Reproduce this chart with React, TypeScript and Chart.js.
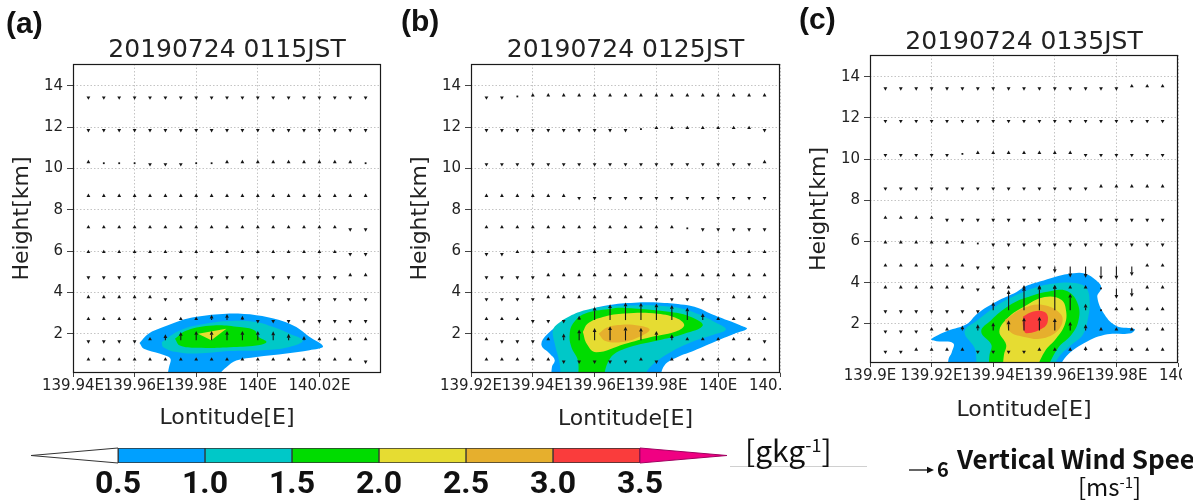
import React, { useEffect, useRef } from 'react';
import { Chart, registerables } from 'chart.js';

Chart.register(...registerables);

// ---------------------------------------------------------------------------
// Data
// ---------------------------------------------------------------------------

// Model levels (km) on which the vertical wind is sampled
const HEIGHTS = [0.7, 1.68, 2.66, 3.72, 4.78, 5.9, 7.1, 8.62, 10.25, 11.9, 13.48];
const Y_TICKS = [2, 4, 6, 8, 10, 12, 14];

const TITLE_A = '20190724 0115JST';
const TITLE_B = '20190724 0125JST';
const TITLE_C = '20190724 0135JST';

const X_TICKS_A = [139.94, 139.96, 139.98, 140.0, 140.02];
const X_TICKS_B = [139.92, 139.94, 139.96, 139.98, 140.0, 140.02];
const X_TICKS_C = [139.9, 139.92, 139.94, 139.96, 139.98, 140.0];

// Longitudes of the vector columns
const LON_A = [139.945, 139.95, 139.955, 139.96, 139.965, 139.97, 139.975, 139.98, 139.985, 139.99, 139.995, 140.0, 140.005, 140.01, 140.015, 140.02, 140.025, 140.03, 140.035];
const LON_B = [139.925, 139.93, 139.935, 139.94, 139.945, 139.95, 139.955, 139.96, 139.965, 139.97, 139.975, 139.98, 139.985, 139.99, 139.995, 140.0, 140.005, 140.01, 140.015];
const LON_C = [139.905, 139.91, 139.915, 139.92, 139.925, 139.93, 139.935, 139.94, 139.945, 139.95, 139.955, 139.96, 139.965, 139.97, 139.975, 139.98, 139.985, 139.99, 139.995];

// Vertical wind speed [m/s], one row per level in HEIGHTS (bottom to top)
const W_A = [
  [0.4, 0.4, 0.4, 0.4, 0.4, 0.4, 0.5, 0.6, 0.7, 0.8, 0.8, 0.8, 0.7, 0.6, 0.6, 0.5, 0.4, 0.4, -0.4],
  [-0.4, -0.4, -0.4, -0.4, 0.5, 1.7, 2.3, 2.6, 2.6, 2.6, 2.6, 2.6, 2.5, 1.8, 1.2, 0.5, 0.4, 0.4, 0.4],
  [0.4, 0.4, 0.4, 0.4, 0.4, 0.4, 0.4, 0.6, 1.5, 1.7, 1.2, -0.4, -0.4, -0.4, -0.4, -0.4, -0.4, -0.4, -0.4],
  [0.4, 0.4, 0.4, 0.4, 0.4, -0.4, -0.4, -0.4, -0.4, -0.4, -0.4, -0.4, -0.4, -0.4, -0.4, -0.4, -0.4, -0.4, -0.4],
  [-0.4, -0.4, -0.4, -0.4, -0.4, -0.4, -0.4, -0.4, -0.4, -0.4, -0.4, -0.4, -0.4, -0.4, -0.4, -0.4, -0.4, 0.4, 0.4],
  [0.4, 0.4, 0.4, 0.4, 0.4, 0.4, 0.4, 0.4, 0.4, 0.4, 0.4, 0.4, 0.4, 0.4, 0.4, 0.4, 0.4, -0.4, -0.4],
  [0.4, 0.4, 0.4, 0.4, 0.4, 0.4, 0.4, 0.4, 0.4, 0.4, 0.4, 0.4, 0.4, 0.4, 0.4, 0.4, 0.4, -0.4, -0.4],
  [0.4, 0.4, 0.4, 0.4, 0.4, 0.4, 0.4, 0.4, 0.4, 0.4, 0.4, 0.4, 0.4, 0.4, 0.4, 0.4, 0.4, 0.4, 0.4],
  [0.3, 0, 0, 0, -0.4, -0.4, -0.4, 0, 0, 0.4, 0.4, 0.4, 0.4, 0.4, 0.4, 0.4, 0.4, 0.4, 0],
  [-0.4, -0.4, -0.4, -0.4, -0.4, -0.4, -0.4, -0.4, -0.4, -0.4, -0.4, -0.4, -0.4, -0.4, -0.4, -0.4, -0.4, -0.4, -0.4],
  [-0.4, -0.4, -0.4, -0.4, -0.4, -0.4, -0.4, -0.4, -0.4, -0.4, -0.4, -0.4, -0.4, -0.4, -0.4, -0.4, -0.4, -0.4, -0.4],
];

const W_B = [
  [0.4, 0.4, 0.4, 0.4, 0.4, -0.5, -0.5, -0.5, -0.5, -0.5, 0.3, -0.4, 0.4, 0.4, 0.4, 0.4, 0.4, 0.4, 0.4],
  [0.4, -0.4, -0.4, -0.4, 0.6, 1.9, 3.0, 3.4, 3.9, 3.8, 3.5, 2.6, 1.7, 0.6, 0.4, 0.4, 0.4, 0.4, -0.4],
  [0.4, 0.4, 0.4, -0.4, -0.4, -0.4, 1.2, 3.7, 4.4, 4.9, 4.8, 4.6, 4.2, 3.5, 1.9, 0.5, 0.4, 0.5, 0.4],
  [-0.4, -0.4, -0.4, -0.4, 0.4, 0.4, 0.4, 0.4, 0.4, 0.4, 0.4, -0.4, -0.4, -0.4, -0.4, -0.4, 0.4, 0.4, 0.4],
  [-0.4, -0.4, -0.4, -0.4, 0.4, 0.4, 0.4, 0.4, 0.4, 0.4, 0.4, 0.4, 0.4, 0.4, 0.4, 0.4, 0.4, 0.4, 0.4],
  [-0.4, -0.4, 0.4, 0.4, 0.4, 0.4, 0.4, 0.4, 0.4, 0.4, 0.4, 0.4, 0.4, 0.4, 0.4, 0.4, 0.4, 0.4, 0.4],
  [0.4, 0.4, 0.4, 0.4, 0.4, 0.4, 0.4, 0.4, 0.4, 0.4, 0.4, 0.4, 0.4, 0, -0.4, -0.4, -0.4, -0.4, -0.4],
  [0.4, 0.4, 0.4, 0.4, 0.4, 0.4, -0.4, -0.4, -0.4, -0.4, -0.4, -0.4, -0.4, -0.4, -0.4, -0.4, -0.4, -0.4, -0.4],
  [-0.4, -0.4, -0.4, -0.4, -0.4, -0.4, -0.4, -0.4, -0.4, -0.4, -0.4, -0.4, -0.4, -0.4, -0.4, -0.4, -0.4, -0.4, 0.4],
  [-0.4, -0.4, -0.4, -0.4, -0.4, -0.4, -0.4, -0.4, -0.4, -0.4, 0, 0.4, 0.4, 0.4, 0.4, 0.4, 0.4, 0.4, -0.4],
  [-0.4, -0.4, 0, 0.4, 0.4, 0.4, 0.4, 0.4, 0.4, 0.4, 0.4, 0.4, 0.4, 0.4, 0.4, 0.4, 0.4, 0.4, 0.4],
];

const W_C = [
  [-0.4, -0.4, 0.4, 0.4, 0.4, 0.5, -0.4, -0.5, -0.5, -0.5, 0.5, 0.5, 0.9, 1.2, 0.5, 0.4, 0.4, 0.4, 0.4],
  [-0.4, -0.4, -0.4, 0.4, 0.5, 1.4, 1.7, 2.2, 2.8, 3.6, 3.8, 3.4, 2.4, 1.7, 0.5, 0.5, 0.5, 0.5, 0.4],
  [-0.4, -0.4, -0.4, -0.4, -0.4, -0.5, -0.4, 2.3, 5.6, 6.5, 6.8, 7.0, 4.6, 1.8, 0, 0.4, 0.5, 0.5, 0.4],
  [0.4, 0.4, 0.4, 0.4, 0.4, 0.4, -0.4, 0.5, 0.4, 0.5, 0.5, 0.5, 0.5, 0.5, 0, -2.9, -2.4, 0.5, 0.4],
  [0.4, 0.4, 0.4, 0.4, 0.4, 0.4, -0.4, -0.4, -0.4, -0.4, -0.6, -1.8, -3.0, -3.1, -3.6, -3.6, -2.6, 0.5, 0.4],
  [0.4, 0.4, 0.4, 0.4, 0.4, 0.4, 0, -0.4, -0.4, -0.4, -0.4, -0.4, -0.4, -0.4, -0.4, -0.4, -0.4, -0.4, -0.4],
  [0.4, 0.4, 0.4, 0.4, -0.4, -0.4, -0.4, -0.4, -0.4, -0.4, -0.4, -0.4, -0.4, -0.4, -0.4, -0.4, -0.4, -0.4, -0.4],
  [-0.4, -0.4, -0.4, -0.4, -0.4, -0.4, -0.4, -0.4, -0.4, -0.4, -0.4, -0.4, -0.4, -0.4, 0.4, 0.4, 0.4, 0.4, 0.4],
  [-0.4, -0.4, -0.4, -0.4, -0.4, 0, 0.4, 0.4, 0.4, 0.4, 0.4, 0.4, 0.4, -0.4, -0.4, -0.4, -0.4, -0.4, -0.4],
  [-0.4, -0.4, -0.4, -0.4, -0.4, -0.4, -0.4, -0.4, -0.4, -0.4, -0.4, -0.4, -0.4, -0.4, -0.4, -0.4, -0.4, -0.4, -0.4],
  [-0.4, -0.4, -0.4, -0.4, -0.4, -0.4, -0.4, -0.4, -0.4, -0.4, -0.4, -0.4, -0.4, -0.4, -0.4, -0.4, 0.4, 0.4, 0.4],
];

// Mixing-ratio contour outlines [lon, km] for each shaded level (g/kg)
const A_05 = [[139.9616, 1.55], [139.9645, 2.0], [139.9693, 2.32], [139.9745, 2.62], [139.9801, 2.82], [139.9898, 2.97], [139.9995, 2.9], [140.007, 2.66], [140.0125, 2.32], [140.0166, 1.86], [140.0212, 1.38], [140.0168, 1.2], [140.0093, 1.04], [139.9995, 0.87], [139.993, 0.7], [139.9898, 0.38], [139.988, 0.1], [139.9875, -0.3], [139.9705, -0.3], [139.9708, 0.1], [139.9712, 0.4], [139.9716, 0.8], [139.9683, 1.03], [139.963, 1.27], [139.9616, 1.55]];
const A_10 = [[139.9688, 1.59], [139.9747, 2.16], [139.9834, 2.49], [139.9909, 2.62], [139.9995, 2.57], [140.005, 2.32], [140.0103, 2.0], [140.0146, 1.67], [140.0103, 1.36], [140.0017, 1.2], [139.9909, 1.16], [139.9801, 1.04], [139.9737, 1.11], [139.9693, 1.35], [139.9688, 1.59]];
const A_15 = [[139.9731, 1.76], [139.9769, 2.16], [139.9855, 2.4], [139.9941, 2.32], [139.999, 2.16], [140.0001, 1.86], [140.0028, 1.6], [139.9995, 1.43], [139.9909, 1.35], [139.9801, 1.32], [139.9747, 1.43], [139.9731, 1.76]];
const A_20 = [[139.9806, 2.0], [139.9898, 2.24], [139.9849, 1.68], [139.9806, 2.0]];

const B_05 = [[139.946, -0.3], [139.9462, 0.4], [139.9471, 0.72], [139.9455, 1.03], [139.9428, 1.45], [139.9445, 1.95], [139.9514, 2.73], [139.9578, 3.13], [139.9643, 3.38], [139.9729, 3.5], [139.9815, 3.5], [139.989, 3.4], [139.9935, 3.25], [139.9976, 2.97], [140.003, 2.65], [140.0073, 2.4], [140.0093, 2.24], [140.0052, 2.0], [139.9987, 1.6], [139.9923, 1.19], [139.9869, 0.87], [139.9826, 0.46], [139.981, -0.3]];
const B_10 = [[139.949, -0.3], [139.9487, 0.54], [139.947, 1.59], [139.9465, 2.16], [139.9482, 2.49], [139.9519, 2.85], [139.9572, 3.15], [139.9648, 3.33], [139.9729, 3.37], [139.981, 3.35], [139.988, 3.22], [139.9935, 2.95], [139.999, 2.55], [140.0025, 2.2], [139.9985, 1.95], [139.9912, 1.59], [139.9837, 1.03], [139.9775, 0.3], [139.976, -0.3]];
const B_15 = [[139.9546, -0.3], [139.9546, 0.7], [139.9525, 1.35], [139.9519, 1.92], [139.953, 2.49], [139.9568, 2.97], [139.9648, 3.2], [139.9697, 3.25], [139.9847, 3.05], [139.9912, 2.81], [139.995, 2.4], [139.989, 2.0], [139.9804, 1.67], [139.9697, 1.27], [139.965, 0.8], [139.9625, -0.3]];
const B_20 = [[139.9562, 2.08], [139.9578, 2.49], [139.9627, 2.81], [139.9697, 2.98], [139.9804, 2.97], [139.9869, 2.73], [139.989, 2.4], [139.9858, 2.08], [139.9783, 1.84], [139.9697, 1.5], [139.9605, 1.1], [139.9575, 1.5], [139.9562, 2.08]];
const B_25 = [[139.9613, 2.0], [139.964, 2.3], [139.969, 2.44], [139.9745, 2.38], [139.9778, 2.2], [139.975, 1.88], [139.969, 1.6], [139.9635, 1.65], [139.9613, 2.0]];

const C_05 = [[139.9253, -0.3], [139.9255, 0.3], [139.9265, 0.6], [139.927, 1.06], [139.9216, 1.16], [139.9199, 1.25], [139.9253, 1.66], [139.9313, 1.98], [139.935, 2.52], [139.9411, 3.09], [139.9476, 3.55], [139.9502, 3.8], [139.9551, 4.05], [139.96, 4.28], [139.9643, 4.42], [139.9697, 4.45], [139.9735, 4.1], [139.9751, 3.75], [139.9738, 3.3], [139.9762, 2.44], [139.98, 1.9], [139.9859, 1.75], [139.9848, 1.55], [139.9762, 1.47], [139.9686, 0.98], [139.9632, 0.33], [139.9612, -0.3]];
const C_10 = [[139.9345, -0.3], [139.9345, 0.3], [139.934, 0.82], [139.9307, 1.63], [139.935, 2.19], [139.9415, 2.92], [139.9475, 3.4], [139.954, 3.78], [139.96, 3.96], [139.9665, 3.98], [139.9702, 3.74], [139.9713, 3.09], [139.9708, 2.28], [139.9691, 1.47], [139.9654, 0.98], [139.961, 0.33], [139.9593, -0.3]];
const C_15 = [[139.9385, -0.3], [139.9388, 0.5], [139.9394, 0.98], [139.9361, 1.63], [139.9394, 2.19], [139.9447, 2.84], [139.9502, 3.25], [139.9589, 3.6], [139.9643, 3.57], [139.9676, 2.92], [139.9676, 2.11], [139.9654, 1.47], [139.961, 0.82], [139.957, -0.3]];
const C_20 = [[139.943, -0.3], [139.9435, 0.5], [139.9442, 0.98], [139.942, 1.63], [139.9447, 2.28], [139.9502, 2.85], [139.9567, 3.3], [139.9621, 3.17], [139.9637, 2.6], [139.9632, 1.95], [139.9605, 1.3], [139.9567, 0.65], [139.9537, -0.3]];
const C_25 = [[139.9438, 2.19], [139.9497, 2.76], [139.9562, 2.92], [139.9621, 2.44], [139.9616, 1.79], [139.9562, 1.3], [139.9497, 1.38], [139.9454, 1.63], [139.9438, 2.19]];
const C_30 = [[139.9497, 2.36], [139.953, 2.6], [139.9567, 2.58], [139.9578, 2.28], [139.9567, 1.85], [139.9508, 1.55], [139.9497, 1.87], [139.9497, 2.36]];

// Shading levels and colour scale
const CB_EDGES = [0.5, 1.0, 1.5, 2.0, 2.5, 3.0, 3.5];
const CB_MIN = 0;
const CB_MAX = 4;
const LEVEL_COLORS = ['rgb(0,160,255)', 'rgb(0,200,200)', 'rgb(0,220,0)', 'rgb(230,220,50)', 'rgb(230,175,45)', 'rgb(250,60,60)'];
const OVER_COLOR = 'rgb(240,0,130)';

// Reference arrow for the vector key
const REF_SPEED = 6;

// ---------------------------------------------------------------------------
// Drawing helpers
// ---------------------------------------------------------------------------

const PX_PER_MS = 3.6;
const FONT = 'DejaVu Sans';

function drawArrow(ctx: CanvasRenderingContext2D, x: number, y: number, w: number) {
  ctx.fillStyle = '#151515';
  ctx.strokeStyle = '#151515';
  if (Math.abs(w) < 0.15) {
    ctx.fillRect(x - 0.9, y - 0.9, 1.8, 1.8);
    return;
  }
  const dir = w > 0 ? -1 : 1;
  const len = Math.max(Math.abs(w) * PX_PER_MS, 3.4);
  const head = Math.min(3.8, len);
  const tipY = y + dir * len;
  const baseY = tipY - dir * head;
  if (len > head) {
    ctx.beginPath();
    ctx.lineWidth = 1.1;
    ctx.moveTo(x, y);
    ctx.lineTo(x, baseY);
    ctx.stroke();
  }
  const hw = 1.9;
  ctx.beginPath();
  ctx.moveTo(x, tipY);
  ctx.lineTo(x - hw, baseY);
  ctx.lineTo(x + hw, baseY);
  ctx.closePath();
  ctx.fill();
}

// Draws vertical-wind vectors at the dataset points and the plot frame
const windPlugin = {
  id: 'windVectors',
  afterDatasetsDraw(chart: any) {
    const { ctx, chartArea: a } = chart;
    ctx.save();
    ctx.beginPath();
    ctx.rect(a.left, a.top, a.right - a.left, a.bottom - a.top);
    ctx.clip();
    chart.data.datasets.forEach((ds: any, i: number) => {
      if (!ds.wind) return;
      const meta = chart.getDatasetMeta(i);
      meta.data.forEach((el: any, j: number) => {
        drawArrow(ctx, el.x, el.y, ds.data[j].w);
      });
    });
    ctx.restore();
    ctx.save();
    ctx.strokeStyle = '#1a1a1a';
    ctx.lineWidth = 1.2;
    ctx.strokeRect(a.left + 0.5, a.top + 0.5, a.right - a.left - 1, a.bottom - a.top - 1);
    ctx.restore();
  },
};

// Triangular end caps of the colour bar
const capsPlugin = {
  id: 'colorbarCaps',
  afterDatasetsDraw(chart: any) {
    const { ctx, chartArea: a } = chart;
    const xs = chart.scales.x;
    const mid = (a.top + a.bottom) / 2;
    const x0 = xs.getPixelForValue(CB_MIN);
    const x1 = xs.getPixelForValue(CB_EDGES[0]);
    const x2 = xs.getPixelForValue(CB_EDGES[CB_EDGES.length - 1]);
    const x3 = xs.getPixelForValue(CB_MAX);
    ctx.save();
    ctx.lineWidth = 1;
    ctx.strokeStyle = '#333';
    ctx.beginPath();
    ctx.moveTo(x1, a.top);
    ctx.lineTo(x0, mid);
    ctx.lineTo(x1, a.bottom);
    ctx.closePath();
    ctx.fillStyle = '#fff';
    ctx.fill();
    ctx.stroke();
    ctx.beginPath();
    ctx.moveTo(x2, a.top);
    ctx.lineTo(x3, mid);
    ctx.lineTo(x2, a.bottom);
    ctx.closePath();
    ctx.fillStyle = OVER_COLOR;
    ctx.fill();
    ctx.strokeStyle = '#a00060';
    ctx.stroke();
    ctx.restore();
  },
};

// ---------------------------------------------------------------------------
// Panels
// ---------------------------------------------------------------------------

type PanelSpec = {
  key: string;
  left: number;
  clipW: number;
  canvasW: number;
  canvasH: number;
  padRight: number;
  yAxisW: number;
  yTitlePad: number;
  titleTop: number;
  titleBottom: number;
  xAxisH: number;
  xMin: number;
  xMax: number;
  xTicks: number[];
  title: string;
  lon: number[];
  w: number[][];
  contours: { pts: number[][]; level: number; tension: number }[];
};

const PANELS: PanelSpec[] = [
  {
    key: 'a', left: 0, clipW: 395, canvasW: 395, canvasH: 429, padRight: 14, yAxisW: 73, yTitlePad: 11,
    titleTop: 38, titleBottom: 1, xAxisH: 56, xMin: 139.94, xMax: 140.04, xTicks: X_TICKS_A, title: TITLE_A, lon: LON_A, w: W_A,
    contours: [
      { pts: A_05, level: 0, tension: 0.35 },
      { pts: A_10, level: 1, tension: 0.4 },
      { pts: A_15, level: 2, tension: 0.4 },
      { pts: A_20, level: 3, tension: 0 },
    ],
  },
  {
    key: 'b', left: 395, clipW: 387, canvasW: 425, canvasH: 430, padRight: 40, yAxisW: 76, yTitlePad: 14,
    titleTop: 38, titleBottom: 1, xAxisH: 57, xMin: 139.92, xMax: 140.02, xTicks: X_TICKS_B, title: TITLE_B, lon: LON_B, w: W_B,
    contours: [
      { pts: B_05, level: 0, tension: 0.4 },
      { pts: B_10, level: 1, tension: 0.4 },
      { pts: B_15, level: 2, tension: 0.4 },
      { pts: B_20, level: 3, tension: 0.4 },
      { pts: B_25, level: 4, tension: 0.4 },
    ],
  },
  {
    key: 'c', left: 790, clipW: 392, canvasW: 428, canvasH: 421, padRight: 40, yAxisW: 80, yTitlePad: 18,
    titleTop: 30, titleBottom: 0, xAxisH: 58, xMin: 139.9, xMax: 140.0, xTicks: X_TICKS_C, title: TITLE_C, lon: LON_C, w: W_C,
    contours: [
      { pts: C_05, level: 0, tension: 0.4 },
      { pts: C_10, level: 1, tension: 0.4 },
      { pts: C_15, level: 2, tension: 0.4 },
      { pts: C_20, level: 3, tension: 0.4 },
      { pts: C_25, level: 4, tension: 0.4 },
      { pts: C_30, level: 5, tension: 0.4 },
    ],
  },
];

function panelConfig(p: PanelSpec): any {
  const shaded = p.contours.map((c, k) => ({
    data: c.pts.map(([x, y]) => ({ x, y })),
    showLine: true,
    fill: 'shape',
    backgroundColor: LEVEL_COLORS[c.level],
    borderWidth: 0,
    pointRadius: 0,
    tension: c.tension,
    capBezierPoints: false,
    order: 100 - c.level * 10 - k,
  }));
  const vectors: any[] = [];
  HEIGHTS.forEach((h, r) => {
    p.lon.forEach((x, j) => vectors.push({ x, y: h, w: p.w[r][j] }));
  });
  const tickFont = { family: FONT, size: 15, lineHeight: 1.2 };
  return {
    type: 'scatter',
    data: {
      datasets: [
        ...shaded,
        { data: vectors, wind: true, pointRadius: 0, showLine: false, order: 0 },
      ],
    },
    options: {
      responsive: false,
      animation: false,
      events: [],
      layout: { padding: { left: 0, right: p.padRight, top: 0, bottom: 0 } },
      plugins: {
        legend: { display: false },
        tooltip: { enabled: false },
        title: {
          display: true,
          text: p.title,
          fullSize: false,
          color: '#222',
          font: { family: FONT, size: 25, weight: 'normal', lineHeight: 1 },
          padding: { top: p.titleTop, bottom: p.titleBottom },
        },
      },
      scales: {
        x: {
          type: 'linear',
          min: p.xMin,
          max: p.xMax,
          afterBuildTicks: (s: any) => { s.ticks = p.xTicks.map((v) => ({ value: v })); },
          afterFit: (s: any) => { s.height = p.xAxisH; },
          ticks: {
            font: tickFont,
            color: '#222',
            padding: 0,
            autoSkip: false,
            minRotation: 0,
            maxRotation: 0,
            callback: (v: number) => `${+Number(v).toFixed(2)}E`,
          },
          grid: { color: '#c4c4c4', lineWidth: 1, tickLength: 4, tickColor: '#444' },
          border: { display: false, dash: [1.5, 2] },
          title: {
            display: true,
            text: 'Lontitude[E]',
            color: '#222',
            font: { family: FONT, size: 22, lineHeight: 1 },
            padding: { top: 0, bottom: 0 },
          },
        },
        y: {
          type: 'linear',
          min: 0.1,
          max: 15.05,
          afterBuildTicks: (s: any) => { s.ticks = Y_TICKS.map((v) => ({ value: v })); },
          afterFit: (s: any) => { s.width = p.yAxisW; },
          ticks: { font: tickFont, color: '#222', padding: 4, callback: (v: number) => String(v) },
          grid: { color: '#c4c4c4', lineWidth: 1, tickLength: 6, tickColor: '#444' },
          border: { display: false, dash: [1.5, 2] },
          title: {
            display: true,
            text: 'Height[km]',
            color: '#222',
            font: { family: FONT, size: 22, lineHeight: 1 },
            padding: { top: p.yTitlePad, bottom: 0 },
          },
        },
      },
    },
    plugins: [windPlugin],
  };
}

function Panel({ p }: { p: PanelSpec }) {
  const ref = useRef<HTMLCanvasElement>(null);
  useEffect(() => {
    if (!ref.current) return;
    const chart = new Chart(ref.current, panelConfig(p));
    return () => chart.destroy();
  }, [p]);
  return (
    <div style={{ position: 'absolute', left: p.left, top: 0, width: p.clipW, height: p.canvasH, overflow: 'hidden' }}>
      <canvas ref={ref} width={p.canvasW} height={p.canvasH} style={{ display: 'block', width: p.canvasW, height: p.canvasH }} />
    </div>
  );
}

function ColorBar() {
  const ref = useRef<HTMLCanvasElement>(null);
  useEffect(() => {
    if (!ref.current) return;
    const chart = new Chart(ref.current, {
      type: 'bar',
      data: {
        labels: [''],
        datasets: LEVEL_COLORS.map((c, i) => ({
          data: [[CB_EDGES[i], CB_EDGES[i + 1]]],
          backgroundColor: c,
          borderColor: '#333',
          borderWidth: 1,
          borderSkipped: false,
          grouped: false,
          barPercentage: 1,
          categoryPercentage: 1,
        })),
      } as any,
      options: {
        indexAxis: 'y',
        responsive: false,
        animation: false,
        events: [],
        layout: { padding: { left: 31, right: 33, top: 8, bottom: 0 } },
        plugins: { legend: { display: false }, tooltip: { enabled: false } },
        scales: {
          x: {
            type: 'linear',
            min: CB_MIN,
            max: CB_MAX,
            afterBuildTicks: (s: any) => { s.ticks = CB_EDGES.map((v) => ({ value: v })); },
            afterFit: (s: any) => { s.height = 37; },
            grid: { display: false, drawTicks: false },
            border: { display: false },
            ticks: {
              font: { family: 'Roboto', size: 32, weight: 'bold', lineHeight: 1 },
              color: '#111',
              padding: 6,
              autoSkip: false,
              maxRotation: 0,
              callback: (v: number) => Number(v).toFixed(1),
            },
          },
          y: { type: 'category', display: false },
        },
      } as any,
      plugins: [capsPlugin],
    });
    return () => chart.destroy();
  }, []);
  return (
    <canvas ref={ref} width={760} height={60} style={{ position: 'absolute', left: 0, top: 440, width: 760, height: 60, display: 'block' }} />
  );
}

function Label({ x, y, size, weight = 400, family, children }: any) {
  return (
    <div style={{ position: 'absolute', left: x, top: y, fontSize: size, fontWeight: weight, fontFamily: family, lineHeight: 1, whiteSpace: 'nowrap', color: '#111' }}>
      {children}
    </div>
  );
}

export default function App() {
  const sans = "'Liberation Sans', Arial, sans-serif";
  const jp = "'Noto Sans CJK JP', 'Noto Sans', sans-serif";
  return (
    <div style={{ position: 'absolute', left: 0, top: 0, width: 1193, height: 500, background: '#fff', overflow: 'hidden' }}>
      {PANELS.map((p) => <Panel key={p.key} p={p} />)}
      <Label x={6} y={8} size={30} weight={700} family={sans}>(a)</Label>
      <Label x={401} y={6} size={30} weight={700} family={sans}>(b)</Label>
      <Label x={799} y={4} size={30} weight={700} family={sans}>(c)</Label>
      <ColorBar />
      <div style={{ position: 'absolute', left: 730, top: 466, width: 137, height: 1, background: '#d0d0d0' }} />
      <Label x={745} y={434} size={30} family={jp}>
        [gkg<sup style={{ fontSize: 18, verticalAlign: 10 }}>-1</sup>]
      </Label>
      <svg style={{ position: 'absolute', left: 909, top: 464 }} width={26} height={12}>
        <line x1={0} y1={6} x2={20} y2={6} stroke="#111" strokeWidth={1.3} />
        <polygon points="25,6 18,2.8 18,9.2" fill="#111" />
      </svg>
      <Label x={937} y={459} size={20} weight={700} family={jp}>{REF_SPEED}</Label>
      <Label x={957} y={445} size={26} weight={700} family={jp}>Vertical Wind Speed</Label>
      <Label x={1078} y={474} size={24} family={jp}>
        [ms<sup style={{ fontSize: 15, verticalAlign: 8 }}>-1</sup>]
      </Label>
    </div>
  );
}
